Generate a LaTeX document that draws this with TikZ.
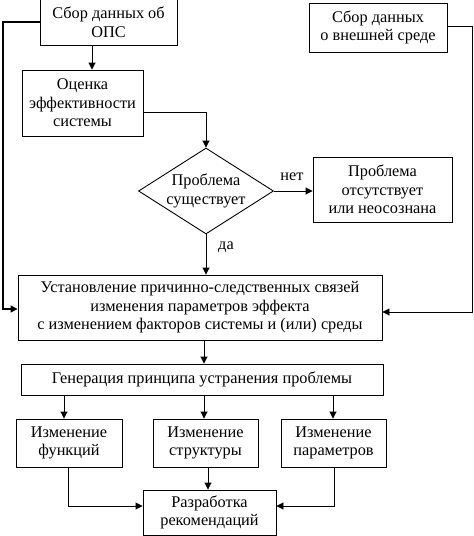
\documentclass[tikz,border=0pt]{standalone}
\usepackage{fontspec}
\setmainfont{Liberation Serif}
\usetikzlibrary{arrows.meta,shapes.geometric}
\begin{document}
\begin{tikzpicture}[x=1pt,y=-1pt,
  box/.style={draw, line width=0.9pt, rectangle, inner sep=0pt, align=center, font=\fontsize{16.3}{18.5}\selectfont},
  lbl/.style={inner sep=0pt, font=\fontsize{16.3}{18.5}\selectfont},
  arr/.style={line width=0.9pt, -{Triangle[length=7pt,width=7pt]}},
  ln/.style={line width=0.9pt}]
\useasboundingbox (0,0) rectangle (474,536);
\node[box, minimum width=137pt, minimum height=46pt] (b1) at (108.5,22) {Сбор данных об\\ОПС};
\node[box, minimum width=138pt, minimum height=49pt] (b0) at (378,27.5) {Сбор данных\\о внешней среде};
\node[box, minimum width=121pt, minimum height=66pt] (b2) at (82.5,103) {Оценка\\эффективности\\системы};
\node[draw, line width=0.9pt, diamond, minimum width=135pt, minimum height=86pt, inner sep=0pt] (d) at (206,191) {};
\node[lbl, align=center] (dt) at (206,191) {Проблема\\существует};
\node[box, minimum width=139pt, minimum height=65pt] (b3) at (382.5,189.5) {Проблема\\отсутствует\\или неосознана};
\node[lbl] (no) at (292,177) {нет};
\node[lbl] (yes) at (226,247) {да};
\node[box, minimum width=364pt, minimum height=65pt] (b4) at (200,307.5) {Установление причинно-следственных связей\\изменения параметров эффекта\\с изменением факторов системы и (или) среды};
\node[box, minimum width=362pt, minimum height=31pt] (b5) at (202,379.5) {Генерация принципа устранения проблемы};
\node[box, minimum width=106pt, minimum height=48pt] (b6) at (69,443) {Изменение\\функций};
\node[box, minimum width=105pt, minimum height=48pt] (b7) at (205.5,443) {Изменение\\структуры};
\node[box, minimum width=105pt, minimum height=48pt] (b8) at (333.5,443) {Изменение\\параметров};
\node[box, minimum width=133pt, minimum height=45pt] (b9) at (209.5,512.5) {Разработка\\рекомендаций};
% connectors
\draw[arr] (92,0 |- b1.south) -- (92,0 |- b2.north);
\draw[arr] (b2.east |- 0,112) -| (d.north);
\draw[arr] (d.east) -- (d.east -| b3.west);
\draw[arr] (d.south) -- (d.south |- b4.north);
\draw[arr, line width=1.4pt] (b1.west) -| (3,309) -- (b4.west |- 0,309);
\draw[arr] (b0.east |- 0,26) -| (472,312) -- (b4.east |- 0,312);
\draw[arr] (204,0 |- b4.south) -- (204,0 |- b5.north);
\draw[arr] (64,0 |- b5.south) -- (64,0 |- b6.north);
\draw[arr] (204,0 |- b5.south) -- (204,0 |- b7.north);
\draw[arr] (333,0 |- b5.south) -- (333,0 |- b8.north);
\draw[arr] (208,0 |- b7.south) -- (208,0 |- b9.north);
\draw[arr] (68,0 |- b6.south) |- (b9.west |- 0,506);
\draw[arr] (334,0 |- b8.south) |- (b9.east |- 0,506);
\end{tikzpicture}
\end{document}
